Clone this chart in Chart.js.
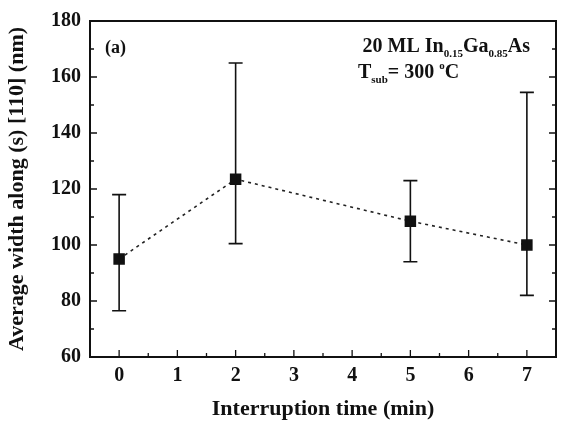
<!DOCTYPE html>
<html>
<head>
<meta charset="utf-8">
<script src="https://cdn.jsdelivr.net/npm/chart.js@4.4.1/dist/chart.umd.min.js"></script>
<style>
  html, body { margin: 0; padding: 0; background: #fff; }
  #chart { display: block; }
</style>
</head>
<body>
<canvas id="chart" width="566" height="427"></canvas>
<script>
// Data
const times = [0, 2, 5, 7];                 // interruption time (min)
const widths = [95, 123.5, 108.5, 100];     // average width (nm)
const errLow = [76.5, 100.5, 94, 82];       // lower end of error bar
const errHigh = [118, 165, 123, 154.5];     // upper end of error bar
const xTicks = [0, 1, 2, 3, 4, 5, 6, 7];
const yTicks = [60, 80, 100, 120, 140, 160, 180];

const FONT = '"Liberation Serif", "DejaVu Serif", serif';

// Error bars drawn through the scales
const errorBars = {
  id: 'errorBars',
  afterDatasetsDraw(chart) {
    const { ctx, scales: { x, y } } = chart;
    ctx.save();
    ctx.strokeStyle = '#111';
    ctx.lineWidth = 1.6;
    for (let i = 0; i < times.length; i++) {
      const px = x.getPixelForValue(times[i]);
      const lo = y.getPixelForValue(errLow[i]);
      const hi = y.getPixelForValue(errHigh[i]);
      ctx.beginPath();
      ctx.moveTo(px, lo); ctx.lineTo(px, hi);
      ctx.moveTo(px - 7, lo); ctx.lineTo(px + 7, lo);
      ctx.moveTo(px - 7, hi); ctx.lineTo(px + 7, hi);
      ctx.stroke();
    }
    ctx.restore();
  }
};

// Frame plus inward ticks (major + minor)
const frameTicks = {
  id: 'frameTicks',
  afterDraw(chart) {
    const { ctx, chartArea: a, scales: { x, y } } = chart;
    ctx.save();
    ctx.strokeStyle = '#111';
    ctx.lineWidth = 1.3;
    ctx.beginPath();
    for (let v = 60; v <= 180; v += 10) {
      const py = y.getPixelForValue(v);
      const len = v % 20 === 0 ? 7 : 4;
      ctx.moveTo(a.left, py); ctx.lineTo(a.left + len, py);
      ctx.moveTo(a.right, py); ctx.lineTo(a.right - len, py);
    }
    for (let v = -0.5; v <= 7.5; v += 0.5) {
      const px = x.getPixelForValue(v);
      const len = Number.isInteger(v) ? 7 : 4;
      ctx.moveTo(px, a.bottom); ctx.lineTo(px, a.bottom - len);
    }
    ctx.stroke();
    ctx.lineWidth = 2;
    ctx.strokeRect(a.left, a.top, a.right - a.left, a.bottom - a.top);

    // annotations
    ctx.fillStyle = '#111';
    ctx.textBaseline = 'alphabetic';
    ctx.font = 'bold 18px ' + FONT;
    ctx.textAlign = 'left';
    ctx.fillText('(a)', 105, 53);

    const sub = 'bold 11px ' + FONT;
    const main = 'bold 20px ' + FONT;
    const parts = [
      ['20 ML In', main, 0], ['0.15', sub, 5], ['Ga', main, 0], ['0.85', sub, 5], ['As', main, 0]
    ];
    let total = 0;
    parts.forEach(p => { ctx.font = p[1]; total += ctx.measureText(p[0]).width; });
    let cx = 530 - total;
    parts.forEach(p => {
      ctx.font = p[1];
      ctx.fillText(p[0], cx, 52 + p[2]);
      cx += ctx.measureText(p[0]).width;
    });

    let tx = 358;
    ctx.font = main; ctx.fillText('T', tx, 78); tx += ctx.measureText('T').width;
    ctx.font = sub; ctx.fillText('sub', tx, 83); tx += ctx.measureText('sub').width;
    ctx.font = main; ctx.fillText('= 300 ', tx, 78); tx += ctx.measureText('= 300 ').width;
    ctx.font = sub; ctx.fillText('o', tx, 69); tx += ctx.measureText('o').width;
    ctx.font = main; ctx.fillText('C', tx, 78);
    ctx.restore();
  }
};

new Chart(document.getElementById('chart'), {
  type: 'scatter',
  data: {
    datasets: [{
      data: times.map((t, i) => ({ x: t, y: widths[i] })),
      showLine: true,
      borderColor: '#222',
      borderWidth: 1.6,
      borderDash: [3, 4],
      pointStyle: 'rect',
      pointRadius: 7,
      pointBackgroundColor: '#111',
      pointBorderColor: '#111'
    }]
  },
  options: {
    responsive: false,
    animation: false,
    layout: { padding: { top: 14, right: 10, left: 0, bottom: 0 } },
    plugins: { legend: { display: false }, tooltip: { enabled: false } },
    scales: {
      x: {
        type: 'linear', min: -0.5, max: 7.5,
        afterBuildTicks: s => { s.ticks = xTicks.map(v => ({ value: v })); },
        afterFit: s => { s.height = 70; },
        grid: { display: false, drawTicks: false },
        border: { display: false },
        ticks: { color: '#111', padding: 7, font: { family: FONT, size: 20, weight: 'bold' } },
        title: { display: true, text: 'Interruption time (min)', color: '#111', padding: { top: 4 },
                 font: { family: FONT, size: 22, weight: 'bold' } }
      },
      y: {
        min: 60, max: 180,
        afterBuildTicks: s => { s.ticks = yTicks.map(v => ({ value: v })); },
        afterFit: s => { s.width = 90; },
        grid: { display: false, drawTicks: false },
        border: { display: false },
        ticks: { color: '#111', padding: 9, font: { family: FONT, size: 20, weight: 'bold' } },
        title: { display: true, text: 'Average width along (s) [110] (nm)', color: '#111', padding: { bottom: 2 },
                 font: { family: FONT, size: 22, weight: 'bold' } }
      }
    }
  },
  plugins: [errorBars, frameTicks]
});
</script>
</body>
</html>
